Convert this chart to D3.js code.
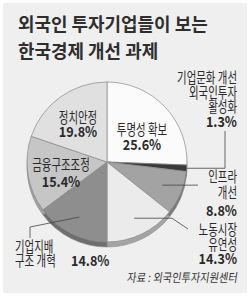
<!DOCTYPE html>
<html>
<head>
<meta charset="utf-8">
<script src="https://cdn.jsdelivr.net/npm/d3@7/dist/d3.min.js"></script>
<style>
body{margin:0;background:#fff;}
text{font-family:"Noto Sans CJK KR","Noto Sans",sans-serif;}
</style>
</head>
<body>
<div id="chart"></div>
<script>
// chart data
var categories = ["투명성 확보", "기업문화 개선", "인프라 개선", "노동시장 유연성", "기업지배 구조 개혁", "금융구조조정", "정치안정"];
var values = [25.6, 1.3, 8.8, 14.3, 14.8, 15.4, 19.8];
var titleLines = ["외국인 투자기업들이 보는", "한국경제 개선 과제"];
var source = "자료 : 외국인투자지원센터";

var fills = ["#fbfbfb", "#3a3a3a", "#a3a3a3", "#ebebeb", "#8e8e8e", "#c6c6c6", "#e0e0e0"];
var rims  = ["#b0b0b0", "#2a2a2a", "#7a7a7a", "#a4a4a4", "#6e6e6e", "#a0a0a0", "#b4b4b4"];

var width = 250, height = 297;
var cx = 107, cy = 162, r = 80;

var svg = d3.select("#chart").append("svg").attr("width", width).attr("height", height);

svg.append("rect").attr("x", 3).attr("y", 3).attr("width", 244).attr("height", 290).attr("fill", "#efefef");

// title
svg.selectAll(".title").data(titleLines).enter().append("text")
    .attr("class", "title")
    .attr("transform", function(d, i){ return "translate(18," + (31 + i * 27) + ") scale(0.97,1)"; })
    .attr("font-size", 18.5).attr("font-weight", "bold").attr("fill", "#2e2e2e")
    .text(function(d){ return d; });

var pie = d3.pie().sort(null).value(function(d){ return d; });
var arcs = pie(values);
var arc = d3.arc().innerRadius(0).outerRadius(r);

// rim (3d edge)
svg.append("g").attr("transform", "translate(" + cx + "," + (cy + 5) + ")")
  .selectAll("path").data(arcs).enter().append("path")
    .attr("d", arc)
    .attr("fill", function(d, i){ return rims[i]; })
    .attr("stroke", "#8a8a8a").attr("stroke-width", 0.6);

svg.append("g").attr("transform", "translate(" + cx + "," + cy + ")")
  .selectAll("path").data(arcs).enter().append("path")
    .attr("d", arc)
    .attr("fill", function(d, i){ return fills[i]; })
    .attr("stroke", "#8a8a8a").attr("stroke-width", 0.7);

function pt(i, f){
  var a = (arcs[i].startAngle + arcs[i].endAngle) / 2;
  return [cx + Math.sin(a) * r * f, cy - Math.cos(a) * r * f];
}
var line = d3.line();
function leader(pts){
  svg.append("path").attr("d", line(pts)).attr("fill", "none").attr("stroke", "#444").attr("stroke-width", 0.8);
}

// leader lines
var p1 = pt(1, 1.0);
leader([p1, [225, p1[1]], [225, 131]]);
var p2 = pt(2, 0.75);
leader([p2, [198, p2[1]]]);
var p3 = pt(3, 0.78);
leader([p3, [172, p3[1]], [188, 229]]);
var p4 = pt(4, 0.77);
leader([p4, [30, 227], [30, 238]]);

function label(x, y, str, bold, anchor){
  svg.append("text")
    .attr("transform", "translate(" + x + "," + y + ") scale(" + (bold ? 0.9 : 0.72) + ",1)")
    .attr("text-anchor", anchor || "middle")
    .attr("font-size", bold ? 14 : 14.5)
    .attr("font-weight", bold ? "bold" : "normal")
    .attr("fill", "#2a2a2a")
    .text(str);
}
function pct(i){ return values[i].toFixed(1) + "%"; }

label(142, 135, "투명성 확보");
label(142, 150, pct(0), true);
label(78, 123, "정치안정");
label(78, 137, pct(6), true);
label(61, 170, "금융구조조정");
label(61, 187, pct(5), true);
label(15, 252, "기업지배", false, "start");
label(15, 266, "구조 개혁", false, "start");
label(71, 266, pct(4), true, "start");

label(237, 83, "기업문화 개선", false, "end");
label(237, 98, "외국인투자", false, "end");
label(237, 112, "활성화", false, "end");
label(237, 127, pct(1), true, "end");

label(237, 182, "인프라", false, "end");
label(237, 198, "개선", false, "end");
label(237, 216, pct(2), true, "end");

label(237, 235, "노동시장", false, "end");
label(237, 250, "유연성", false, "end");
label(237, 264, pct(3), true, "end");

svg.append("text")
    .attr("transform", "translate(237,282) scale(0.85,1) skewX(-10)")
    .attr("text-anchor", "end").attr("font-size", 12).attr("fill", "#333")
    .text(source);
</script>
</body>
</html>
